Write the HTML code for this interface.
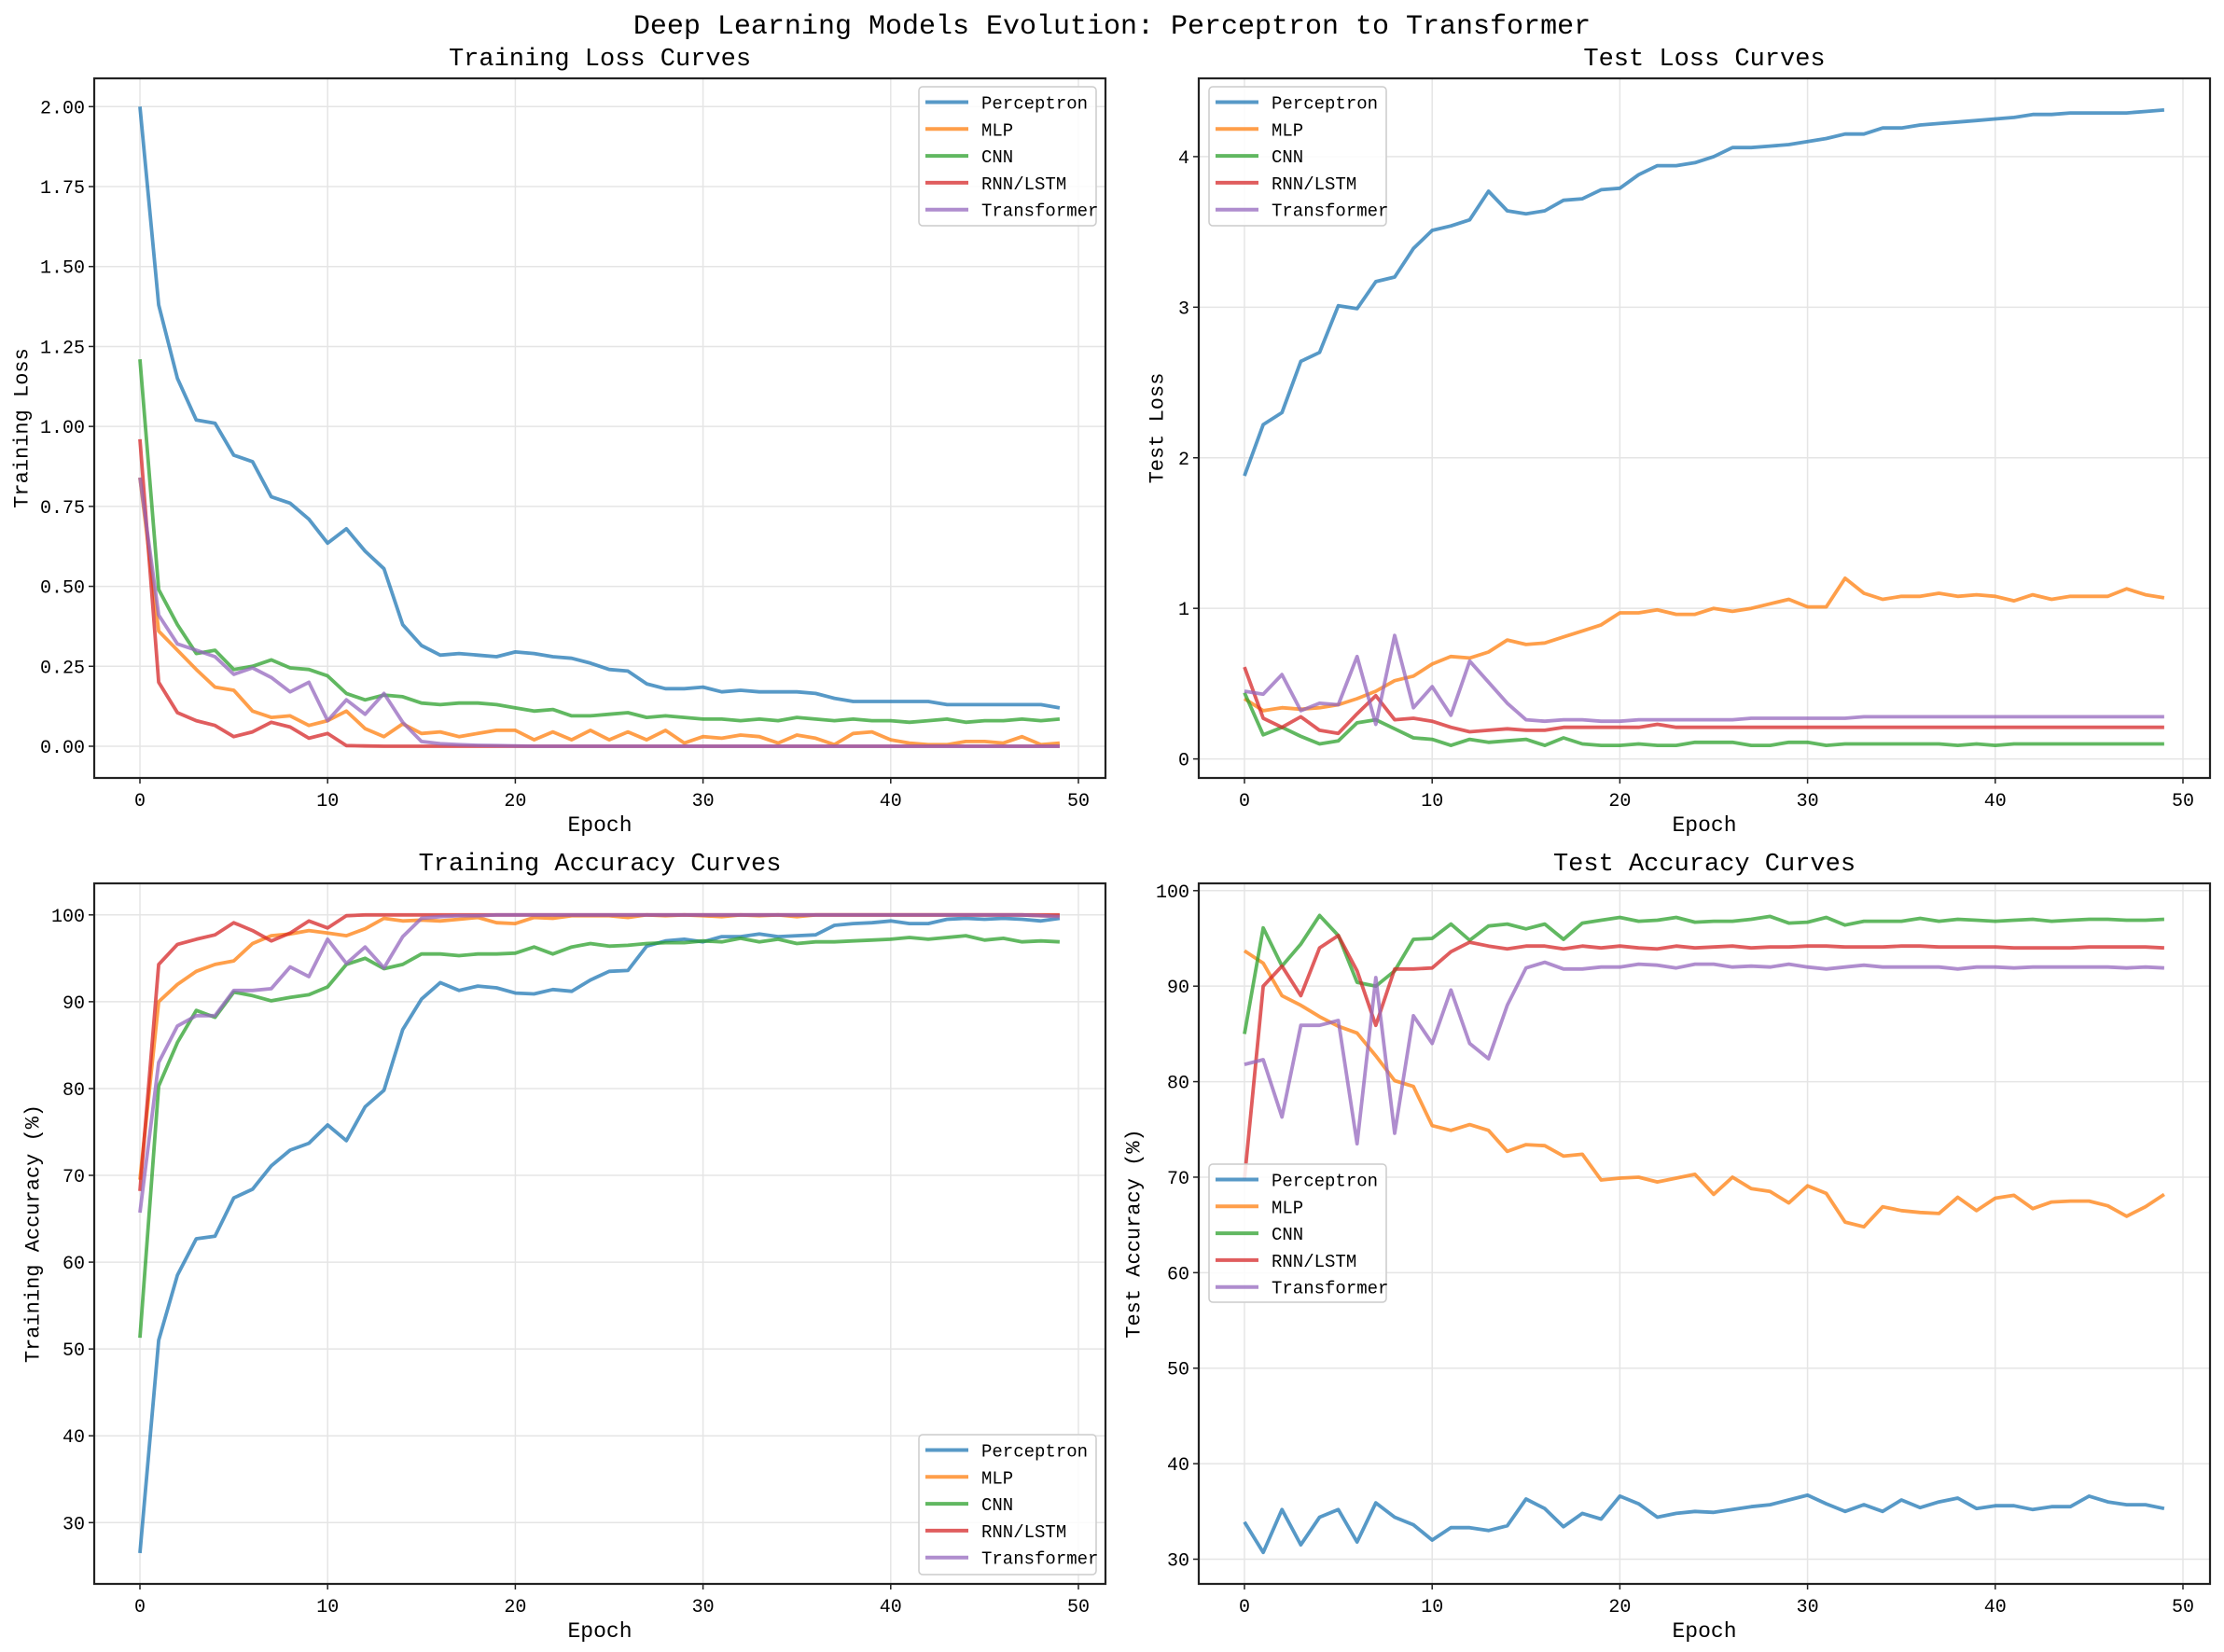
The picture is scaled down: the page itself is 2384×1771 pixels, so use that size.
<!DOCTYPE html>
<html><head><meta charset="utf-8">
<style>
html,body{margin:0;padding:0;background:#fff;}
svg{display:block;font-family:"Liberation Mono","Noto Sans CJK SC",monospace;}
</style></head>
<body>
<svg id="fig" width="2384" height="1771" viewBox="0 0 2384 1771" xmlns="http://www.w3.org/2000/svg">
<rect width="2384" height="1771" fill="#fff"/>
<text x="1192" y="36" text-anchor="middle" font-size="30" fill="#000">Deep Learning Models Evolution: Perceptron to Transformer</text>
</svg>
<script>
const epochs = Array.from({length:50},(_,i)=>i);
const seriesNames = ["Perceptron","MLP","CNN","RNN/LSTM","Transformer"];
const colors = ["#1f77b4","#ff7f0e","#2ca02c","#d62728","#9467bd"];

const trainLossPerceptron=[2.00,1.38,1.15,1.02,1.01,0.91,0.89,0.78,0.76,0.71,0.635,0.68,0.61,0.555,0.38,0.315,0.285,0.29,0.285,0.28,0.295,0.29,0.28,0.275,0.26,0.24,0.235,0.195,0.18,0.18,0.185,0.17,0.175,0.17,0.17,0.17,0.165,0.15,0.14,0.14,0.14,0.14,0.14,0.13,0.13,0.13,0.13,0.13,0.13,0.12];
const trainLossMLP=[0.84,0.36,0.30,0.24,0.185,0.175,0.11,0.09,0.095,0.065,0.08,0.11,0.055,0.03,0.07,0.04,0.045,0.03,0.04,0.05,0.05,0.02,0.045,0.02,0.05,0.02,0.045,0.02,0.05,0.01,0.03,0.025,0.035,0.03,0.01,0.035,0.025,0.005,0.04,0.045,0.02,0.01,0.005,0.005,0.015,0.015,0.01,0.03,0.005,0.01];
const trainLossCNN=[1.21,0.49,0.38,0.29,0.30,0.24,0.25,0.27,0.245,0.24,0.22,0.165,0.145,0.16,0.155,0.135,0.13,0.135,0.135,0.13,0.12,0.11,0.115,0.095,0.095,0.10,0.105,0.09,0.095,0.09,0.085,0.085,0.08,0.085,0.08,0.09,0.085,0.08,0.085,0.08,0.08,0.075,0.08,0.085,0.075,0.08,0.08,0.085,0.08,0.085];
const trainLossRNN=[0.96,0.20,0.105,0.08,0.065,0.03,0.045,0.075,0.06,0.025,0.04,0.002,0.001,0,0,0,0,0,0,0,0,0,0,0,0,0,0,0,0,0,0,0,0,0,0,0,0,0,0,0,0,0,0,0,0,0,0,0,0,0];
const trainLossTransformer=[0.84,0.41,0.32,0.30,0.28,0.225,0.245,0.215,0.17,0.20,0.08,0.145,0.10,0.165,0.075,0.015,0.008,0.005,0.003,0.002,0.001,0,0,0,0,0,0,0,0,0,0,0,0,0,0,0,0,0,0,0,0,0,0,0,0,0,0,0,0,0];

const testLossPerceptron=[1.88,2.22,2.30,2.64,2.70,3.01,2.99,3.17,3.20,3.39,3.51,3.54,3.58,3.77,3.64,3.62,3.64,3.71,3.72,3.78,3.79,3.88,3.94,3.94,3.96,4.00,4.06,4.06,4.07,4.08,4.10,4.12,4.15,4.15,4.19,4.19,4.21,4.22,4.23,4.24,4.25,4.26,4.28,4.28,4.29,4.29,4.29,4.29,4.30,4.31];
const testLossMLP=[0.40,0.32,0.34,0.33,0.34,0.36,0.40,0.45,0.52,0.55,0.63,0.68,0.67,0.71,0.79,0.76,0.77,0.81,0.85,0.89,0.97,0.97,0.99,0.96,0.96,1.00,0.98,1.00,1.03,1.06,1.01,1.01,1.20,1.10,1.06,1.08,1.08,1.10,1.08,1.09,1.08,1.05,1.09,1.06,1.08,1.08,1.08,1.13,1.09,1.07];
const testLossCNN=[0.44,0.16,0.21,0.15,0.10,0.12,0.24,0.26,0.20,0.14,0.13,0.09,0.13,0.11,0.12,0.13,0.09,0.14,0.10,0.09,0.09,0.10,0.09,0.09,0.11,0.11,0.11,0.09,0.09,0.11,0.11,0.09,0.10,0.10,0.10,0.10,0.10,0.10,0.09,0.10,0.09,0.10,0.10,0.10,0.10,0.10,0.10,0.10,0.10,0.10];
const testLossRNN=[0.61,0.27,0.21,0.28,0.19,0.17,0.30,0.42,0.26,0.27,0.25,0.21,0.18,0.19,0.20,0.19,0.19,0.21,0.21,0.21,0.21,0.21,0.23,0.21,0.21,0.21,0.21,0.21,0.21,0.21,0.21,0.21,0.21,0.21,0.21,0.21,0.21,0.21,0.21,0.21,0.21,0.21,0.21,0.21,0.21,0.21,0.21,0.21,0.21,0.21];
const testLossTransformer=[0.45,0.43,0.56,0.32,0.37,0.36,0.68,0.23,0.82,0.34,0.48,0.29,0.65,0.51,0.37,0.26,0.25,0.26,0.26,0.25,0.25,0.26,0.26,0.26,0.26,0.26,0.26,0.27,0.27,0.27,0.27,0.27,0.27,0.28,0.28,0.28,0.28,0.28,0.28,0.28,0.28,0.28,0.28,0.28,0.28,0.28,0.28,0.28,0.28,0.28];

const trainAccPerceptron=[26.5,51,58.5,62.7,63,67.4,68.4,71.1,72.9,73.7,75.8,74,77.9,79.8,86.8,90.3,92.2,91.3,91.8,91.6,91,90.9,91.4,91.2,92.5,93.5,93.6,96.4,97,97.2,96.9,97.5,97.5,97.8,97.5,97.6,97.7,98.8,99,99.1,99.3,99,99,99.5,99.6,99.5,99.6,99.5,99.3,99.6];
const trainAccMLP=[69.5,90,92,93.5,94.3,94.7,96.7,97.6,97.8,98.2,97.9,97.6,98.4,99.6,99.3,99.4,99.3,99.5,99.7,99.1,99.0,99.7,99.6,99.9,99.9,99.9,99.7,100,99.9,100,99.9,99.8,100,99.9,100,99.8,100,100,100,100,100,100,100,100,100,100,100,100,99.9,99.9];
const trainAccCNN=[51.3,80.3,85.3,89,88.2,91.1,90.7,90.1,90.5,90.8,91.7,94.3,95,93.8,94.3,95.5,95.5,95.3,95.5,95.5,95.6,96.3,95.5,96.3,96.7,96.4,96.5,96.7,96.8,96.8,97,96.9,97.3,96.9,97.2,96.7,96.9,96.9,97,97.1,97.2,97.4,97.2,97.4,97.6,97.1,97.3,96.9,97,96.9];
const trainAccRNN=[68.2,94.3,96.6,97.2,97.7,99.1,98.2,97,97.9,99.3,98.5,99.9,100,100,100,100,100,100,100,100,100,100,100,100,100,100,100,100,100,100,100,100,100,100,100,100,100,100,100,100,100,100,100,100,100,100,100,100,100,100];
const trainAccTransformer=[65.7,83,87.2,88.4,88.4,91.3,91.3,91.5,94,92.9,97.2,94.4,96.3,93.9,97.5,99.6,99.8,99.9,99.9,100,100,100,100,100,100,100,100,100,100,100,100,100,100,100,100,100,100,100,100,100,100,100,100,100,100,100,100,100,99.9,99.8];

const testAccPerceptron=[33.9,30.7,35.2,31.5,34.4,35.2,31.8,35.9,34.4,33.6,32,33.3,33.3,33,33.5,36.3,35.3,33.4,34.8,34.2,36.6,35.8,34.4,34.8,35,34.9,35.2,35.5,35.7,36.2,36.7,35.8,35,35.7,35,36.2,35.4,36,36.4,35.3,35.6,35.6,35.2,35.5,35.5,36.6,36,35.7,35.7,35.3];
const testAccMLP=[93.7,92.4,89,88,86.8,85.8,85.1,82.7,80.1,79.5,75.4,74.9,75.5,74.9,72.7,73.4,73.3,72.2,72.4,69.7,69.9,70,69.5,69.9,70.3,68.2,70,68.8,68.5,67.3,69.1,68.3,65.3,64.8,66.9,66.5,66.3,66.2,67.9,66.5,67.8,68.1,66.7,67.4,67.5,67.5,67,65.9,66.9,68.2];
const testAccCNN=[85,96.1,92.1,94.4,97.4,95.3,90.4,90,91.6,94.9,95,96.5,94.8,96.3,96.5,96,96.5,94.9,96.6,96.9,97.2,96.8,96.9,97.2,96.7,96.8,96.8,97,97.3,96.6,96.7,97.2,96.4,96.8,96.8,96.8,97.1,96.8,97,96.9,96.8,96.9,97,96.8,96.9,97,97,96.9,96.9,97];
const testAccRNN=[69.8,90,92.1,89,94,95.3,91.6,85.9,91.8,91.8,91.9,93.6,94.6,94.2,93.9,94.2,94.2,93.9,94.2,94,94.2,94,93.9,94.2,94,94.1,94.2,94,94.1,94.1,94.2,94.2,94.1,94.1,94.1,94.2,94.2,94.1,94.1,94.1,94.1,94,94,94,94,94.1,94.1,94.1,94.1,94];
const testAccTransformer=[81.8,82.3,76.3,85.9,85.9,86.4,73.5,90.9,74.6,86.9,84,89.6,84,82.4,88,91.9,92.5,91.8,91.8,92,92,92.3,92.2,91.9,92.3,92.3,92,92.1,92,92.3,92,91.8,92,92.2,92,92,92,92,91.8,92,92,91.9,92,92,92,92,92,91.9,92,91.9];

const xTicks=[0,10,20,30,40,50];
const lossTicks=[0,0.25,0.5,0.75,1,1.25,1.5,1.75,2];
const lossTickLabels=["0.00","0.25","0.50","0.75","1.00","1.25","1.50","1.75","2.00"];
const testLossTicks=[0,1,2,3,4];
const accTicks=[30,40,50,60,70,80,90,100];

const NS="http://www.w3.org/2000/svg";
const svg=document.getElementById('fig');
function mk(tag,attrs,parent){const e=document.createElementNS(NS,tag);for(const k in attrs)e.setAttribute(k,attrs[k]);(parent||svg).appendChild(e);return e;}

const panels=[
 {key:"train-loss",title:"Training Loss Curves",ylabel:"Training Loss",L:101,R:1185,T:84,B:834,x0px:150,x50px:1156,ya:0,yapx:800,yb:2,ybpx:114.3,ticks:lossTicks,labels:lossTickLabels,series:[trainLossPerceptron,trainLossMLP,trainLossCNN,trainLossRNN,trainLossTransformer],leg:{x:985,y:93,w:190,h:149},ylx:24},
 {key:"test-loss",title:"Test Loss Curves",ylabel:"Test Loss",L:1285,R:2369,T:84,B:834,x0px:1334,x50px:2340,ya:0,yapx:813.6,yb:4,ybpx:167.9,ticks:testLossTicks,labels:testLossTicks.map(String),series:[testLossPerceptron,testLossMLP,testLossCNN,testLossRNN,testLossTransformer],leg:{x:1296,y:93,w:190,h:149},ylx:1241},
 {key:"train-acc",title:"Training Accuracy Curves",ylabel:"Training Accuracy (%)",L:101,R:1185,T:947,B:1698,x0px:150,x50px:1156,ya:30,yapx:1632.3,yb:100,ybpx:980.8,ticks:accTicks,labels:accTicks.map(String),series:[trainAccPerceptron,trainAccMLP,trainAccCNN,trainAccRNN,trainAccTransformer],leg:{x:985,y:1538,w:190,h:150},ylx:36},
 {key:"test-acc",title:"Test Accuracy Curves",ylabel:"Test Accuracy (%)",L:1285,R:2369,T:947,B:1698,x0px:1334,x50px:2340,ya:30,yapx:1671.5,yb:100,ybpx:954.8,ticks:accTicks,labels:accTicks.map(String),series:[testAccPerceptron,testAccMLP,testAccCNN,testAccRNN,testAccTransformer],leg:{x:1296,y:1248,w:190,h:148},ylx:1216}
];

panels.forEach(p=>{
 const g=mk('g',{});
 
 
 const xs=e=>p.x0px+(p.x50px-p.x0px)*e/50;
 const ys=v=>p.yapx+(p.ybpx-p.yapx)*(v-p.ya)/(p.yb-p.ya);
 xTicks.forEach(t=>{const l=mk('line',{x1:xs(t),x2:xs(t),y1:p.T,y2:p.B,stroke:"#e5e5e5","stroke-width":1.5},g);
  });
 p.ticks.forEach(t=>{const l=mk('line',{x1:p.L,x2:p.R,y1:ys(t),y2:ys(t),stroke:"#e5e5e5","stroke-width":1.5},g);
  });
 p.series.forEach((arr,si)=>{
  const d=arr.map((v,i)=>(i?'L':'M')+xs(epochs[i]).toFixed(1)+' '+ys(v).toFixed(1)).join(' ');
  const path=mk('path',{d:d,fill:"none",stroke:colors[si],"stroke-opacity":0.75,"stroke-width":3.8,"stroke-linejoin":"round"},g);
  
  
 });
 const fr=mk('rect',{x:p.L,y:p.T,width:p.R-p.L,height:p.B-p.T,fill:"none",stroke:"#222","stroke-width":2.2},g);
 
 xTicks.forEach(t=>{mk('line',{x1:xs(t),x2:xs(t),y1:p.B,y2:p.B+6,stroke:"#222","stroke-width":1.5},g);
  const tx=mk('text',{x:xs(t),y:p.B+30,"text-anchor":"middle","font-size":20,fill:"#000"},g);tx.textContent=t;
  });
 p.ticks.forEach((t,i)=>{mk('line',{x1:p.L-6,x2:p.L,y1:ys(t),y2:ys(t),stroke:"#222","stroke-width":1.5},g);
  const tx=mk('text',{x:p.L-10,y:ys(t)+7,"text-anchor":"end","font-size":20,fill:"#000"},g);tx.textContent=p.labels[i];
  });
 const cx=(p.L+p.R)/2;
 const tt=mk('text',{x:cx,y:p.T-14,"text-anchor":"middle","font-size":27,fill:"#000"},g);tt.textContent=p.title;
 
 const xl=mk('text',{x:cx,y:p.B+57,"text-anchor":"middle","font-size":23,fill:"#000"},g);xl.textContent="Epoch";
 
 const yc=(p.T+p.B)/2;
 const yl=mk('text',{x:p.ylx,y:yc,"text-anchor":"middle","font-size":22,fill:"#000",transform:`rotate(-90 ${p.ylx} ${yc})`,"dominant-baseline":"central"},g);yl.textContent=p.ylabel;
 
 const lg=mk('g',{},g);
 
 mk('rect',{x:p.leg.x,y:p.leg.y,width:p.leg.w,height:p.leg.h,rx:4,fill:"#fff","fill-opacity":0.85,stroke:"#ccc","stroke-width":1.5},lg);
 seriesNames.forEach((n,si)=>{
  const ey=p.leg.y+16.5+si*28.8;
  const ent=mk('g',{},lg);
  
  mk('line',{x1:p.leg.x+7,x2:p.leg.x+53,y1:ey,y2:ey,stroke:colors[si],"stroke-opacity":0.75,"stroke-width":4},ent);
  const t=mk('text',{x:p.leg.x+67,y:ey+7,"font-size":19,fill:"#000"},ent);t.textContent=n;
 });
});
</script>
</body></html>
